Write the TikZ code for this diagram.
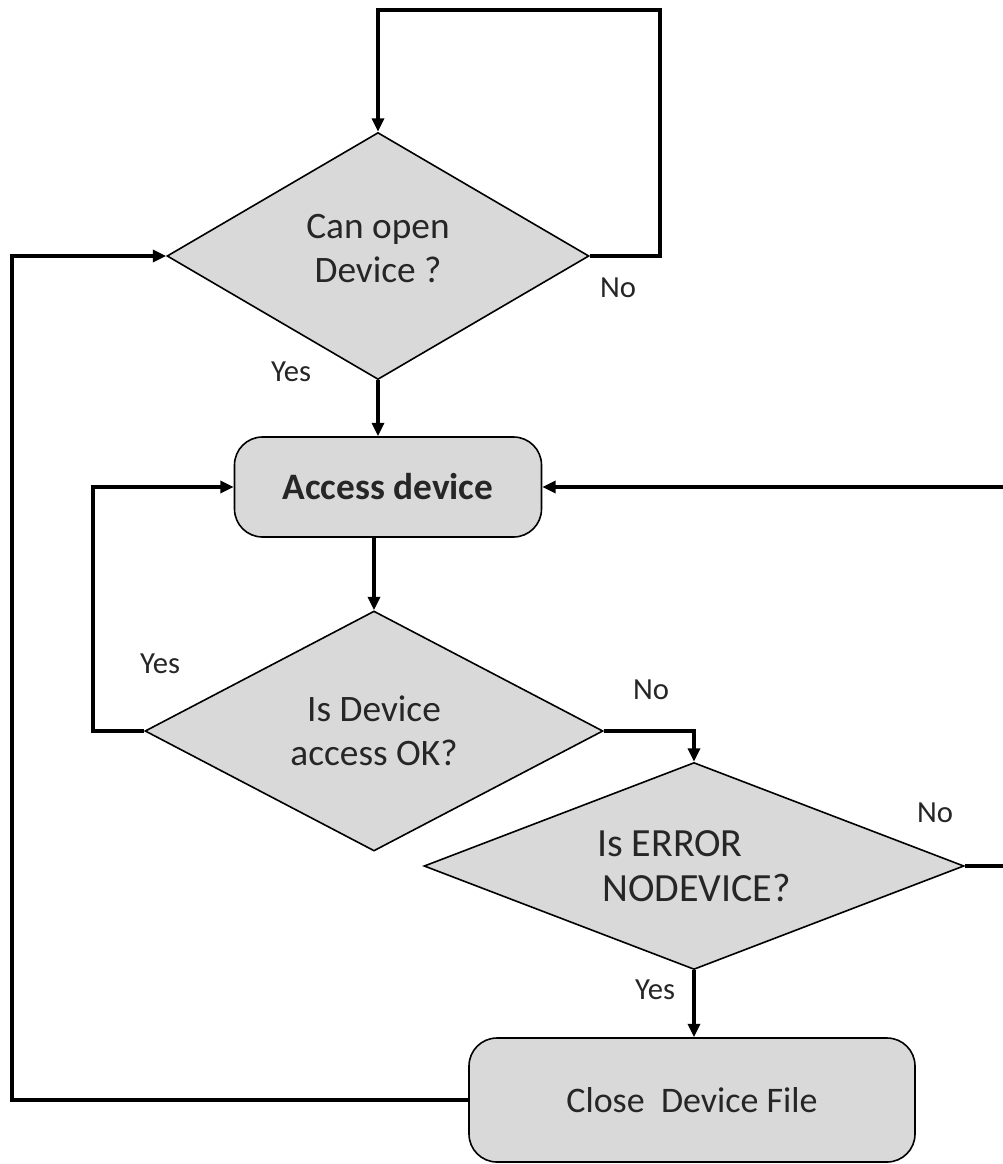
\documentclass[tikz,border=0pt]{standalone}
\usepackage{fontspec}
\setmainfont{Carlito}
\usetikzlibrary{shapes.geometric,arrows.meta}
\definecolor{boxfill}{HTML}{D9D9D9}
\definecolor{txt}{HTML}{262626}
\begin{document}
\begin{tikzpicture}[x=0.75pt,y=-0.75pt,
  decision/.style={diamond,draw=black,fill=boxfill,line width=1.2pt,inner sep=0pt,
    text=txt,align=center,font=\fontsize{28}{33}\selectfont},
  procbox/.style={rectangle,rounded corners=21pt,draw=black,fill=boxfill,line width=1.2pt,
    text=txt,align=center,font=\fontsize{27}{33}\selectfont},
  flow/.style={line width=3pt,-{Triangle[length=10pt,width=9pt]}},
  lbl/.style={text=txt,font=\fontsize{23}{28}\selectfont,inner sep=0pt}]
\useasboundingbox (0,0) rectangle (1003,1164);
\fill[white] (0,0) rectangle (1003,1164);

\node[decision,shape aspect=1.7,minimum width=316.5pt,minimum height=185.25pt,text depth=12pt] (d1) at (378,256) {Can open\\Device ?};
\node[procbox,minimum width=230.25pt,minimum height=75pt,font=\fontsize{28}{33}\selectfont\bfseries] (acc) at (388,487) {Access device};
\node[decision,shape aspect=1.9,minimum width=343.5pt,minimum height=180pt] (d2) at (374,731) {Is Device\\access OK?};
\node[decision,shape aspect=2.6,minimum width=405pt,minimum height=155.25pt,align=left,font=\fontsize{30}{34}\selectfont] (d3) at (694,866) {Is ERROR\\\hspace*{4pt}NODEVICE?};
\node[procbox,minimum width=334.5pt,minimum height=93pt] (close) at (692,1100) {Close\ \ Device File};

\coordinate (topR) at (660,10);
\coordinate (topL) at (378,10);
\coordinate (leftB) at (12,1100);
\coordinate (leftT) at (12,256);
\coordinate (yesB) at (93,731);
\coordinate (yesT) at (93,487);
\coordinate (rightB) at (1012,866);
\coordinate (rightT) at (1012,487);

\draw[flow] (d1.east) -| (topR) -- (topL) -- (d1.north);
\draw[flow] (close.west) -- (leftB) -- (leftT) -- (d1.west);
\draw[flow] (d1.south) -- (d1.south |- acc.north);
\draw[flow] (d2.north |- acc.south) -- (d2.north);
\draw[flow] (d2.west) -- (yesB) -- (yesT) -- (acc.west);
\draw[flow] (d2.east) -| (d3.north);
\draw[flow] (d3.east) -- (rightB) -- (rightT) -- (acc.east);
\draw[flow] (d3.south) -- (close.north -| d3.south);

\node[lbl] (l1) at (618,288) {No};
\node[lbl] (l2) at (291,372) {Yes};
\node[lbl] (l3) at (160,664) {Yes};
\node[lbl] (l4) at (651,690) {No};
\node[lbl] (l5) at (935,813) {No};
\node[lbl] (l6) at (655,990) {Yes};
\end{tikzpicture}
\end{document}
